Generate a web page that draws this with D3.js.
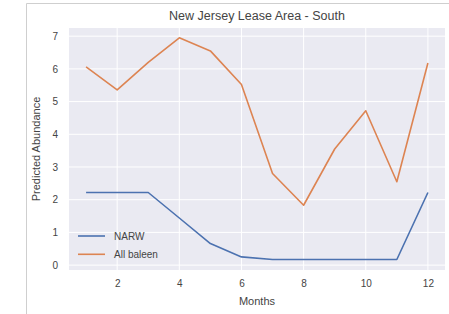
<!DOCTYPE html>
<html>
<head>
<meta charset="utf-8">
<script src="https://cdn.jsdelivr.net/npm/d3@7"></script>
<style>
  body { margin:0; background:#fff; }
  svg text { font-family: "Liberation Sans", Arial, sans-serif; fill:#444; }
</style>
</head>
<body>
<script>
const w = 449;
const h = 314;
const margin = {left:69, right:4, top:28, bottom:44};

// data
const months = [1,2,3,4,5,6,7,8,9,10,11,12];
const narw = [2.22,2.22,2.22,1.44,0.66,0.25,0.17,0.17,0.17,0.17,0.17,2.22];
const allBaleen = [6.06,5.36,6.2,6.95,6.55,5.52,2.8,1.83,3.55,4.72,2.55,6.18];
const xTicks = [2,4,6,8,10,12];
const yTicks = [0,1,2,3,4,5,6,7];
const seriesNames = ["NARW","All baleen"];
const colors = ["#4C72B0","#DD8452"];

const innerW = w-(margin.left+margin.right);
const innerH = h-(margin.top+margin.bottom);

const svg = d3.select("body").append("svg")
    .attr("width", w)
    .attr("height", h);

// frame of the screenshot
svg.append("path")
    .attr("d", "M26.5," + h + "V3.5H" + w)
    .attr("fill", "none")
    .attr("stroke", "#cfcfcf")
    .attr("stroke-width", 1);

const xScale = d3.scaleLinear().domain([0.45,12.55]).range([0,innerW]);
const yScale = d3.scaleLinear().domain([-0.15,7.25]).range([innerH,0]);

const g = svg.append("g")
    .attr("transform","translate("+margin.left+","+margin.top+")");

//background
g.append("rect")
    .attr("width", innerW)
    .attr("height", innerH)
    .attr("fill", "#EAEAF2");

// grid
g.append("g").selectAll("line")
    .data(yTicks).enter().append("line")
    .attr("x1",0).attr("x2",innerW)
    .attr("y1",d => yScale(d)).attr("y2",d => yScale(d))
    .attr("stroke","#fff").attr("stroke-width",1);
g.append("g").selectAll("line")
    .data(xTicks).enter().append("line")
    .attr("y1",0).attr("y2",innerH)
    .attr("x1",d => xScale(d)).attr("x2",d => xScale(d))
    .attr("stroke","#fff").attr("stroke-width",1);

// axes (labels only, seaborn style)
const xAxis = d3.axisBottom(xScale).tickValues(xTicks).tickSize(0).tickPadding(10);
const yAxis = d3.axisLeft(yScale).tickValues(yTicks).tickSize(0).tickPadding(11);
g.append("g")
    .attr("transform","translate(0,"+innerH+")")
    .call(xAxis)
    .call(a => a.select(".domain").remove())
    .selectAll("text")
    .attr("font-size", 10)
    .attr("fill", "#4a4a4a");
g.append("g")
    .call(yAxis)
    .call(a => a.select(".domain").remove())
    .selectAll("text")
    .attr("font-size", 10)
    .attr("fill", "#4a4a4a");

// lines
const series = [narw, allBaleen];
const line = d3.line()
    .x((d,i) => xScale(months[i]))
    .y(d => yScale(d));
g.append("g").selectAll("path")
    .data(series).enter().append("path")
    .attr("d", line)
    .attr("fill","none")
    .attr("stroke",(d,i) => colors[i])
    .attr("stroke-width",1.6)
    .attr("stroke-linejoin","round");

// legend
const legend = g.append("g").selectAll("g")
    .data(seriesNames).enter().append("g")
    .attr("transform",(d,i) => "translate(9,"+(208+i*18.3)+")");
legend.append("line")
    .attr("x1",0).attr("x2",27)
    .attr("stroke",(d,i) => colors[i])
    .attr("stroke-width",1.6);
legend.append("text")
    .attr("x",36).attr("dy","0.35em")
    .attr("font-size",10)
    .text(d => d);

//graph title
svg.append("text")
    .attr("x", margin.left+innerW/2)
    .attr("y", 20)
    .attr("text-anchor","middle")
    .attr("font-size", 12.5)
    .attr("fill","#333")
    .text("New Jersey Lease Area - South");

//x axis title
svg.append("text")
    .attr("x", margin.left+innerW/2)
    .attr("y", 305)
    .attr("text-anchor","middle")
    .attr("font-size", 11)
    .text("Months");

//y axis title
svg.append("text")
    .attr("transform","translate(40,"+(margin.top+innerH/2)+") rotate(-90)")
    .attr("text-anchor","middle")
    .attr("font-size", 11)
    .text("Predicted Abundance");
</script>
</body>
</html>
